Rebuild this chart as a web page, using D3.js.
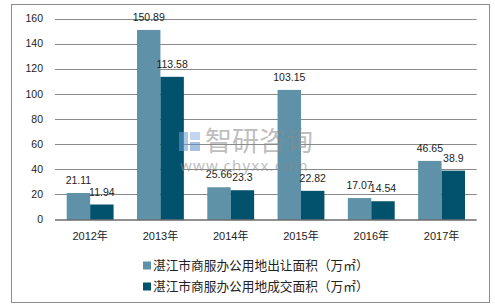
<!DOCTYPE html>
<html>
<head>
<meta charset="utf-8">
<script src="https://cdn.jsdelivr.net/npm/d3@7"></script>
<style>
  body { margin: 0; background: #fff; }
  svg { display: block; }
</style>
</head>
<body>
<div class="chart"></div>
<script>
var years = ['2012年', '2013年', '2014年', '2015年', '2016年', '2017年'];
var transferred = [21.11, 150.89, 25.66, 103.15, 17.07, 46.65];
var traded = [11.94, 113.58, 23.3, 22.82, 14.54, 38.9];
var yTicks = [0, 20, 40, 60, 80, 100, 120, 140, 160];
var seriesNames = ['湛江市商服办公用地出让面积（万㎡）', '湛江市商服办公用地成交面积（万㎡）'];
var colors = ['#5f92a8', '#02526d'];

var W = 495, H = 308;
var svg = d3.select('.chart')
    .append('svg')
    .attr('width', W)
    .attr('height', H);

// outer frame
svg.append('rect')
    .attr('x', 11.5).attr('y', 4.5)
    .attr('width', 478).attr('height', 298)
    .attr('fill', 'none')
    .attr('stroke', '#8c8c8c')
    .attr('stroke-width', 1);

var plotLeft = 55, plotRight = 476.7, plotTop = 18.5, plotBottom = 219.5;

var y = d3.scaleLinear().domain([0, 160]).range([plotBottom, plotTop]);
var x = d3.scaleBand().domain(years).range([plotLeft, plotRight]).padding(0);
var sub = d3.scaleBand().domain([0, 1])
    .range([x.bandwidth() / 6, x.bandwidth() * 5 / 6]);

// gridlines
svg.append('g')
    .selectAll('line')
    .data(yTicks.filter(d => d > 0))
    .enter().append('line')
    .attr('x1', plotLeft).attr('x2', plotRight)
    .attr('y1', d => Math.round(y(d)) + 0.5)
    .attr('y2', d => Math.round(y(d)) + 0.5)
    .attr('stroke', '#8a8a8a');

// y tick labels
svg.append('g')
    .selectAll('text')
    .data(yTicks)
    .enter().append('text')
    .attr('x', 43)
    .attr('y', d => y(d))
    .attr('dy', '0.35em')
    .attr('text-anchor', 'end')
    .attr('font-family', 'Liberation Sans, Arial, sans-serif')
    .attr('font-size', 10.5)
    .attr('fill', '#222')
    .text(d => d);

// bars
var data = years.map((yr, i) => ({ year: yr, values: [transferred[i], traded[i]] }));
var groups = svg.append('g')
    .selectAll('g')
    .data(data)
    .enter().append('g')
    .attr('transform', d => 'translate(' + x(d.year) + ',0)');

groups.selectAll('rect')
    .data(d => d.values.map((v, k) => ({ v: v, k: k })))
    .enter().append('rect')
    .attr('x', d => sub(d.k))
    .attr('width', sub.bandwidth())
    .attr('y', d => y(d.v))
    .attr('height', d => plotBottom - y(d.v))
    .attr('fill', d => colors[d.k]);

groups.selectAll('text')
    .data(d => d.values.map((v, k) => ({ v: v, k: k })))
    .enter().append('text')
    .attr('x', d => sub(d.k) + sub.bandwidth() / 2)
    .attr('y', d => y(d.v) - 9)
    .attr('text-anchor', 'middle')
    .attr('font-family', 'Liberation Sans, Arial, sans-serif')
    .attr('font-size', 10.5)
    .attr('fill', '#222')
    .text(d => d.v);

// baseline
svg.append('line')
    .attr('x1', plotLeft).attr('x2', plotRight)
    .attr('y1', plotBottom + 0.5).attr('y2', plotBottom + 0.5)
    .attr('stroke', '#222');

// x labels
svg.append('g')
    .selectAll('text')
    .data(years)
    .enter().append('text')
    .attr('x', d => x(d) + x.bandwidth() / 2)
    .attr('y', 236)
    .attr('dy', '0.35em')
    .attr('text-anchor', 'middle')
    .attr('font-family', 'Liberation Sans, Noto Sans CJK SC, sans-serif')
    .attr('font-size', 11)
    .attr('fill', '#222')
    .text(d => d);

// legend
var legend = svg.append('g')
    .selectAll('g')
    .data(seriesNames)
    .enter().append('g')
    .attr('transform', (d, i) => 'translate(143,' + (265.5 + i * 21) + ')');
legend.append('rect')
    .attr('x', 0).attr('y', -4)
    .attr('width', 8).attr('height', 8)
    .attr('fill', (d, i) => colors[i]);
legend.append('text')
    .attr('x', 10)
    .attr('dy', '0.35em')
    .attr('font-family', 'Noto Sans CJK SC, sans-serif')
    .attr('font-size', 12.7)
    .attr('fill', '#222')
    .text(d => d);

// watermark
var wm = svg.append('g').attr('opacity', 0.55);
wm.append('rect').attr('x', 179).attr('y', 132).attr('width', 9).attr('height', 19).attr('fill', '#6a9fd6');
wm.append('rect').attr('x', 190).attr('y', 132).attr('width', 10).attr('height', 8).attr('fill', '#8fb8e6');
wm.append('rect').attr('x', 190).attr('y', 142).attr('width', 10).attr('height', 9).attr('fill', '#5d92cc');
wm.append('text')
    .attr('x', 205).attr('y', 151)
    .attr('font-family', 'Noto Sans CJK SC, sans-serif')
    .attr('font-size', 27)
    .attr('fill', '#8a8a8a')
    .text('智研咨询');
wm.append('text')
    .attr('x', 180).attr('y', 171)
    .attr('font-family', 'Noto Sans, sans-serif')
    .attr('font-size', 15)
    .attr('letter-spacing', 1.2)
    .attr('fill', '#8a8a8a')
    .text('www.chyxx.com');
</script>
</body>
</html>
